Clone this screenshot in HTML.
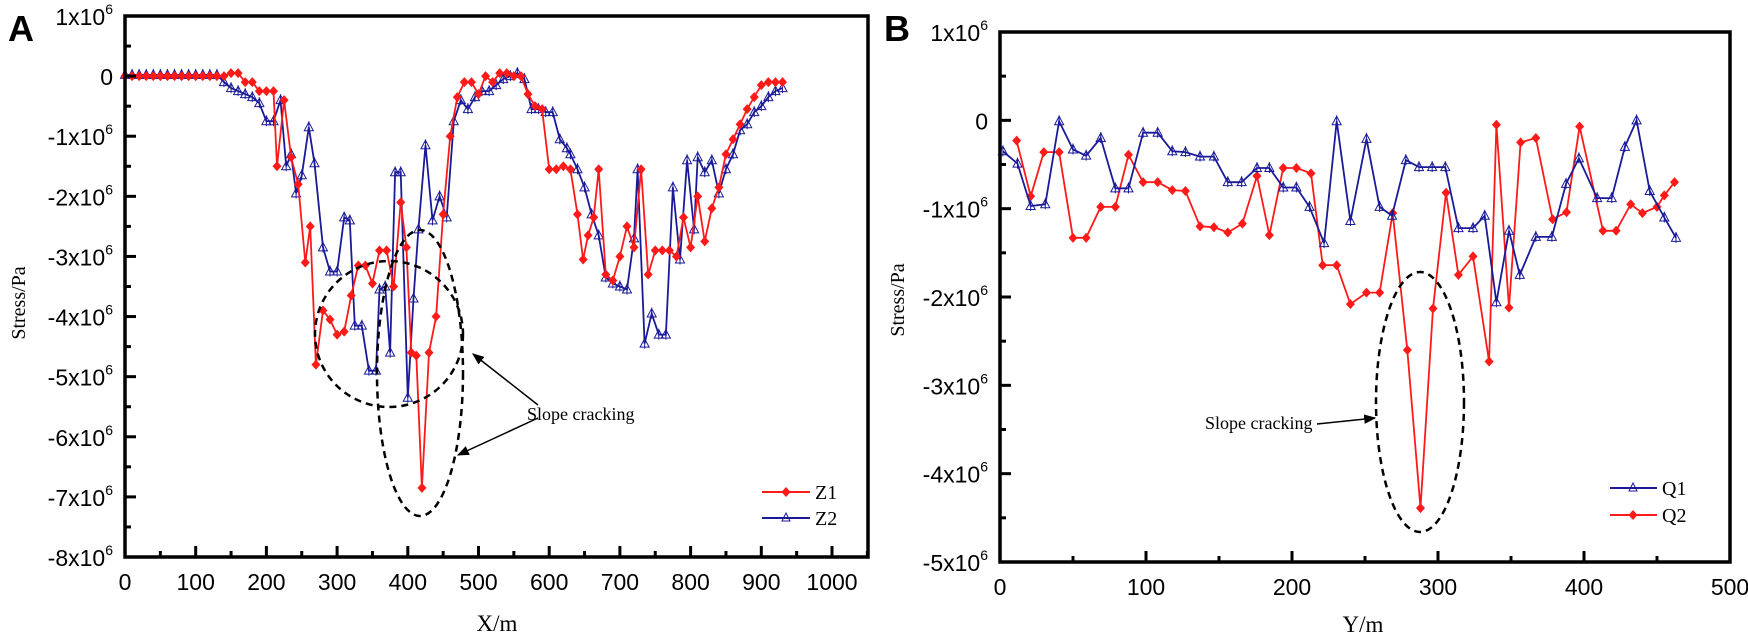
<!DOCTYPE html>
<html><head><meta charset="utf-8"><style>
body{margin:0;background:#fff;}
svg{display:block;}
.tl{font-family:"Liberation Sans",Arial,sans-serif;font-size:23px;fill:#000;}
.sup{font-size:14px;}
.ser{font-family:"Liberation Serif","Times New Roman",serif;fill:#000;}
</style></head><body>
<svg id="chart" width="1748" height="643" viewBox="0 0 1748 643" xmlns="http://www.w3.org/2000/svg">
<g id="panelA"></g>
<g id="panelB"></g>
</svg>
<script>
// ---- Data: panel A ----
const z1X = [0,10,20,30,40,50,60,70,80,90,100,110,120,130,140,150,160,170,180,190,200,210,215,225,235,245,255,262,270,280,290,300,310,320,330,340,350,360,370,380,390,398,405,412,420,430,440,450,460,470,480,490,500,510,520,530,540,550,560,570,580,590,600,610,620,630,640,648,655,663,670,680,690,700,710,720,730,740,750,760,770,780,790,800,810,820,830,840,850,860,870,880,890,900,910,920,930];
const z1Y = [0,0,0,0,0,0,0,0,0,0,0,0,0,0,0,0.05,0.05,-0.1,-0.1,-0.25,-0.25,-0.25,-1.5,-0.4,-1.35,-1.8,-3.1,-2.5,-4.8,-3.9,-4.05,-4.3,-4.25,-3.65,-3.15,-3.15,-3.45,-2.9,-2.9,-3.5,-2.1,-2.85,-4.6,-4.65,-6.85,-4.6,-4.0,-2.3,-1.0,-0.35,-0.1,-0.1,-0.3,0,-0.1,0.05,0.05,0,0,-0.3,-0.5,-0.55,-1.55,-1.55,-1.5,-1.55,-2.3,-3.05,-2.65,-2.35,-1.55,-3.3,-3.4,-3.0,-2.5,-2.85,-1.55,-3.3,-2.9,-2.9,-2.9,-3.0,-2.35,-2.85,-2.0,-2.75,-2.2,-1.85,-1.3,-1.05,-0.8,-0.55,-0.35,-0.15,-0.1,-0.1,-0.1];
const z2X = [0,10,20,30,40,50,60,70,80,90,100,110,120,130,140,150,160,170,180,190,200,210,220,228,235,242,250,260,268,280,290,300,310,318,325,335,345,355,360,368,375,382,390,400,408,415,425,435,445,455,465,475,485,495,505,515,525,535,545,555,565,575,585,595,605,615,625,630,640,650,660,670,680,690,700,710,720,725,735,745,755,765,775,785,795,805,810,820,830,840,850,860,870,880,890,900,910,920,930];
const z2Y = [0.02,0.02,0.02,0.02,0.02,0.02,0.02,0.02,0.02,0.02,0.02,0.02,0.02,0.02,-0.1,-0.2,-0.25,-0.3,-0.35,-0.45,-0.75,-0.75,-0.4,-1.5,-1.3,-1.95,-1.65,-0.85,-1.45,-2.85,-3.25,-3.25,-2.35,-2.4,-4.15,-4.15,-4.9,-4.9,-3.55,-3.5,-4.6,-1.6,-1.6,-5.35,-3.7,-2.55,-1.15,-2.4,-2.0,-2.35,-0.75,-0.4,-0.55,-0.35,-0.25,-0.25,-0.15,-0.05,0,0.05,-0.05,-0.55,-0.55,-0.6,-0.6,-1.05,-1.2,-1.3,-1.55,-1.85,-2.3,-2.65,-3.35,-3.45,-3.5,-3.55,-2.7,-1.55,-4.45,-3.95,-4.3,-4.3,-1.85,-3.05,-1.4,-2.55,-1.35,-1.6,-1.4,-1.95,-1.55,-1.3,-0.9,-0.8,-0.6,-0.5,-0.35,-0.25,-0.2];
const aXTicks = [0,100,200,300,400,500,600,700,800,900,1000];
const aYTicks = [1,0,-1,-2,-3,-4,-5,-6,-7,-8];
// ---- Data: panel B ----
const q1X = [2,12,21,31,40.5,50,59,69,79,88,98,108,118,127,137,146.5,156,165.5,176,184.5,194,203,212,222,230.6,240,251,260,268.5,278,287,296,305,314,324,332,340,348.6,356,367,378,387.7,396.5,409,419,428,436,445,455,463];
const q1Y = [-0.35,-0.49,-0.97,-0.95,-0.01,-0.33,-0.4,-0.2,-0.77,-0.77,-0.14,-0.14,-0.35,-0.36,-0.41,-0.41,-0.7,-0.7,-0.54,-0.54,-0.76,-0.76,-0.98,-1.39,-0.01,-1.14,-0.21,-0.98,-1.08,-0.45,-0.53,-0.53,-0.53,-1.22,-1.22,-1.08,-2.06,-1.25,-1.75,-1.32,-1.32,-0.72,-0.43,-0.88,-0.88,-0.3,0.0,-0.8,-1.1,-1.33];
const q2X = [11.4,21,30,40.5,50,59,69,79,88,98,108,118,127,137,146.5,156,166,176,184.5,194,203,213,221,230.6,240,251,260,269,279,288,296.6,305.5,314,324,335,340,348.6,356.6,367,378.5,388,397,413,422,432,440,450,455,462];
const q2Y = [-0.23,-0.86,-0.36,-0.36,-1.33,-1.33,-0.98,-0.98,-0.39,-0.7,-0.7,-0.79,-0.8,-1.2,-1.21,-1.27,-1.17,-0.63,-1.3,-0.54,-0.54,-0.6,-1.64,-1.64,-2.08,-1.95,-1.95,-1.05,-2.6,-4.39,-2.13,-0.82,-1.75,-1.54,-2.73,-0.05,-2.12,-0.25,-0.2,-1.12,-1.04,-0.07,-1.25,-1.25,-0.95,-1.05,-0.98,-0.85,-0.7];
const bXTicks = [0,100,200,300,400,500];
const bYTicks = [1,0,-1,-2,-3,-4,-5];

const NS="http://www.w3.org/2000/svg";
function mk(parent,tag,attrs){const e=document.createElementNS(NS,tag);for(const k in attrs)e.setAttribute(k,attrs[k]);parent.appendChild(e);return e;}

function drawPanel(g,cfg){
  const sx=v=>cfg.x0+(v-cfg.xmin)/(cfg.xmax-cfg.xmin)*(cfg.x1-cfg.x0);
  const sy=v=>cfg.y1-(v-cfg.ymin)/(cfg.ymax-cfg.ymin)*(cfg.y1-cfg.y0);
  cfg.series.forEach(s=>{
    const sg=mk(g,'g',{});
    
    
    const pts=s.x.map((v,i)=>sx(v).toFixed(1)+','+sy(s.y[i]).toFixed(1)).join(' ');
    const pl=mk(sg,'polyline',{points:pts,fill:'none',stroke:s.color,'stroke-width':1.8});
    
    
    s.x.forEach((v,i)=>{
      const cx=sx(v),cy=sy(s.y[i]);
      let m;
      if(s.marker==='diamond'){
        m=mk(sg,'path',{d:`M${cx},${cy-5}L${cx+4.5},${cy}L${cx},${cy+5}L${cx-4.5},${cy}Z`,fill:s.color});
      }else{
        m=mk(sg,'path',{d:`M${cx},${cy-5}L${cx+4.5},${cy+3.5}L${cx-4.5},${cy+3.5}Z M${cx-5},${cy+3.5}H${cx+5} M${cx},${cy-6}V${cy+5}`,fill:'none',stroke:s.color,'stroke-width':1});
      }
      
      
    });
  });
  const box=mk(g,'rect',{x:cfg.x0,y:cfg.y0,width:cfg.x1-cfg.x0,height:cfg.y1-cfg.y0,fill:'none',stroke:'#000','stroke-width':3.5});
  
  
  const xa=mk(g,'g',{});
  
  
  for(let v=cfg.xmin;v<=cfg.xmax+0.01;v+=cfg.xstep/2){
    const major=Math.abs(Math.round(v/cfg.xstep)*cfg.xstep-v)<0.01;
    mk(xa,'line',{x1:sx(v),x2:sx(v),y1:cfg.y1,y2:cfg.y1-(major?11:6),stroke:'#000','stroke-width':3});
  }
  cfg.xticks.forEach(v=>{
    const t=mk(xa,'text',{x:sx(v),y:cfg.y1+33,'text-anchor':'middle',class:'tl'});
    t.textContent=v;
    
    
  });
  const ya=mk(g,'g',{});
  
  
  for(let v=cfg.ymin;v<=cfg.ymax+0.001;v+=0.5){
    const major=Math.abs(Math.round(v)-v)<0.01;
    mk(ya,'line',{x1:cfg.x0,x2:cfg.x0+(major?11:6),y1:sy(v),y2:sy(v),stroke:'#000','stroke-width':3});
  }
  cfg.yticks.forEach(v=>{
    const t=mk(ya,'text',{x:cfg.x0-12,y:sy(v)+9,'text-anchor':'end',class:'tl'});
    
    
    if(v===0){t.textContent='0';}
    else{
      t.appendChild(document.createTextNode(v+'x10'));
      const s=document.createElementNS(NS,'tspan');s.setAttribute('class','sup');s.setAttribute('dy','-11');s.textContent='6';t.appendChild(s);
    }
  });
}

const A=document.getElementById('panelA'), B=document.getElementById('panelB');
drawPanel(A,{x0:125,x1:868,y0:16,y1:557,xmin:0,xmax:743/0.707,ymin:-8,ymax:1,xstep:100,xticks:aXTicks,yticks:aYTicks,
  series:[{name:'z2',x:z2X,y:z2Y,color:'#1a1a99',marker:'tri'},{name:'z1',x:z1X,y:z1Y,color:'#ff1a1a',marker:'diamond'}]});
drawPanel(B,{x0:1000,x1:1730,y0:32,y1:562,xmin:0,xmax:500,ymin:-5,ymax:1,xstep:100,xticks:bXTicks,yticks:bYTicks,
  series:[{name:'q2',x:q2X,y:q2Y,color:'#ff1a1a',marker:'diamond'},{name:'q1',x:q1X,y:q1Y,color:'#1a1a99',marker:'tri'}]});
</script>
<svg style="position:absolute;left:0;top:0" width="1748" height="643">
<defs><marker id="ah2" viewBox="0 0 10 10" refX="9" refY="5" markerWidth="8" markerHeight="8" orient="auto"><path d="M0,1 L10,5 L0,9 Z" fill="#000"/></marker></defs>
<text x="8" y="41" font-family="Liberation Sans,Arial,sans-serif" font-weight="bold" font-size="36">A</text>
<text x="884" y="41" font-family="Liberation Sans,Arial,sans-serif" font-weight="bold" font-size="36">B</text>
<text class="ser" font-size="20" transform="translate(25,303) rotate(-90)" text-anchor="middle">Stress/Pa</text>
<text class="ser" font-size="20" transform="translate(904,300) rotate(-90)" text-anchor="middle">Stress/Pa</text>
<text class="ser" font-size="23" x="497" y="631" text-anchor="middle">X/m</text>
<text class="ser" font-size="23" x="1363" y="632" text-anchor="middle">Y/m</text>
<ellipse cx="389" cy="334" rx="74" ry="73" fill="none" stroke="#000" stroke-width="2.5" stroke-dasharray="7,5"/>
<ellipse cx="420" cy="373" rx="43" ry="143" fill="none" stroke="#000" stroke-width="2.5" stroke-dasharray="7,5"/>
<text class="ser" font-size="18" x="527" y="420">Slope cracking</text>
<line x1="538" y1="405" x2="473" y2="354" stroke="#000" stroke-width="1.5" marker-end="url(#ah2)"/>
<line x1="538" y1="418" x2="458" y2="455" stroke="#000" stroke-width="1.5" marker-end="url(#ah2)"/>
<ellipse cx="1420" cy="402" rx="44" ry="130" fill="none" stroke="#000" stroke-width="2.5" stroke-dasharray="7,5"/>
<text class="ser" font-size="18" x="1205" y="429">Slope cracking</text>
<line x1="1317" y1="424" x2="1375" y2="418" stroke="#000" stroke-width="1.5" marker-end="url(#ah2)"/>
<g>
<line x1="762" y1="492" x2="810" y2="492" stroke="#ff1a1a" stroke-width="2"/><path d="M786,487L790.5,492L786,497L781.5,492Z" fill="#ff1a1a"/>
<text class="ser" font-size="20" x="815" y="499">Z1</text>
<line x1="762" y1="518" x2="810" y2="518" stroke="#1a1a99" stroke-width="2"/><path d="M786,513L790,521L782,521Z" fill="none" stroke="#1a1a99"/>
<text class="ser" font-size="20" x="815" y="525">Z2</text>
</g>
<g>
<line x1="1610" y1="488" x2="1657" y2="488" stroke="#1a1a99" stroke-width="2"/><path d="M1633,483L1637,491L1629,491Z" fill="none" stroke="#1a1a99"/>
<text class="ser" font-size="20" x="1662" y="495">Q1</text>
<line x1="1610" y1="515" x2="1657" y2="515" stroke="#ff1a1a" stroke-width="2"/><path d="M1633,510L1637.5,515L1633,520L1628.5,515Z" fill="#ff1a1a"/>
<text class="ser" font-size="20" x="1662" y="522">Q2</text>
</g>
</svg>
</body></html>
